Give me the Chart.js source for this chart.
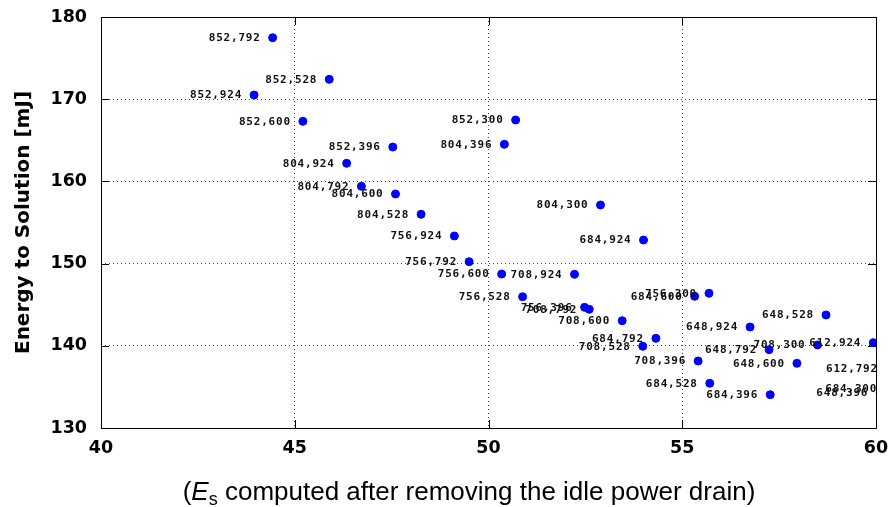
<!DOCTYPE html>
<html>
<head>
<meta charset="utf-8">
<script src="https://cdn.jsdelivr.net/npm/chart.js@4"></script>
<style>
  html, body { margin: 0; padding: 0; background: #fff; }
</style>
</head>
<body>
<canvas id="chart" width="895" height="507"></canvas>
<script>
// frequency config (core MHz, mem MHz) for each run
const configs = [
  '852,792', '852,528', '852,924', '852,600', '852,300', '852,396',
  '804,396', '804,924', '804,792', '804,600', '804,528', '804,300',
  '684,924', '756,924', '756,792', '756,600', '708,924', '756,528',
  '756,396', '708,792', '708,600', '684,792', '708,528', '708,396',
  '684,528', '756,300', '684,600', '648,528', '648,924', '612,924',
  '708,300', '648,792', '648,600', '684,396', '612,792', '684,300',
  '648,396'
];
// E_s (x axis)
const esValues = [
  44.43, 45.89, 43.95, 45.21, 50.70, 47.53,
  50.41, 46.34, 46.72, 47.60, 48.26, 52.89,
  54.00, 49.12, 49.50, 50.34, 52.22, 50.88,
  52.48, 52.60, 53.45, 54.32, 53.98, 55.41,
  55.71, 55.69, 55.32, 58.71, 56.75, 59.93,
  58.49, 57.24, 57.96, 57.27, 60.36, 60.34,
  60.11
];
// energy to solution [mJ] (y axis)
const energyValues = [
  177.48, 172.42, 170.51, 167.31, 167.47, 164.18,
  164.51, 162.20, 159.40, 158.47, 156.00, 157.13,
  152.87, 153.36, 150.23, 148.73, 148.70, 145.97,
  144.68, 144.44, 143.05, 140.91, 139.94, 138.15,
  135.44, 146.39, 146.02, 143.75, 142.29, 140.38,
  140.10, 139.53, 137.87, 134.05, 137.26, 134.83,
  134.30
];
const xTicks = { min: 40, max: 60, step: 5 };
const yTicks = { min: 130, max: 180, step: 10 };

const points = esValues.map((x, i) => ({ x: x, y: energyValues[i] }));

// labels next to each point
const pointLabels = {
  id: 'pointLabels',
  afterDatasetsDraw(chart) {
    const ctx = chart.ctx;
    const meta = chart.getDatasetMeta(0);
    ctx.save();
    ctx.font = 'bold 11px "DejaVu Sans Mono"';
    ctx.letterSpacing = '0.8px';
    ctx.fillStyle = '#111';
    ctx.textAlign = 'right';
    ctx.textBaseline = 'middle';
    meta.data.forEach((pt, i) => {
      ctx.fillText(configs[i], pt.x - 12, pt.y + 0.5);
    });
    ctx.restore();
  }
};

// box + inward tick marks like gnuplot
const frame = {
  id: 'frame',
  beforeDatasetsDraw(chart) {
    const { ctx, chartArea: a, scales } = chart;
    ctx.save();
    ctx.strokeStyle = '#000';
    ctx.lineWidth = 1;
    ctx.beginPath();
    scales.x.ticks.forEach(t => {
      const px = Math.round(scales.x.getPixelForValue(t.value)) + 0.5;
      ctx.moveTo(px, a.bottom); ctx.lineTo(px, a.bottom - 8);
      ctx.moveTo(px, a.top); ctx.lineTo(px, a.top + 8);
    });
    scales.y.ticks.forEach(t => {
      const py = Math.round(scales.y.getPixelForValue(t.value)) + 0.5;
      ctx.moveTo(a.left, py); ctx.lineTo(a.left + 8, py);
      ctx.moveTo(a.right, py); ctx.lineTo(a.right - 8, py);
    });
    ctx.stroke();
    ctx.strokeRect(Math.round(a.left) + 0.5, Math.round(a.top) + 0.5,
      Math.round(a.right - a.left), Math.round(a.bottom - a.top));
    ctx.restore();
  }
};

// x axis title with italic E and subscript s
const xTitle = {
  id: 'xTitle',
  afterDraw(chart) {
    const ctx = chart.ctx;
    const cx = 469;
    const big = '26px "Liberation Sans"';
    const ital = 'italic 26px "Liberation Sans"';
    const sub = '18px "Liberation Sans"';
    const rest = ' computed after removing the idle power drain)';
    ctx.save();
    ctx.fillStyle = '#000';
    ctx.textBaseline = 'alphabetic';
    ctx.font = big; const w1 = ctx.measureText('(').width;
    const w3 = ctx.measureText(rest).width;
    ctx.font = ital; const w2 = ctx.measureText('E').width;
    ctx.font = sub; const ws = ctx.measureText('s').width;
    let x = cx - (w1 + w2 + ws + w3) / 2;
    const base = 500;
    ctx.font = big; ctx.fillText('(', x, base); x += w1;
    ctx.font = ital; ctx.fillText('E', x, base); x += w2;
    ctx.font = sub; ctx.fillText('s', x, base + 5); x += ws;
    ctx.font = big; ctx.fillText(rest, x, base);
    ctx.restore();
  }
};

const gridColor = ctx => {
  const v = ctx.tick && ctx.tick.value;
  const s = ctx.scale;
  return (v === s.min || v === s.max) ? 'rgba(0,0,0,0)' : '#444';
};

new Chart(document.getElementById('chart'), {
  type: 'scatter',
  data: {
    datasets: [{
      data: points,
      backgroundColor: '#0000ff',
      borderColor: '#0000ff',
      pointRadius: 4,
      pointHoverRadius: 4,
      clip: { left: 5, top: 5, bottom: 5, right: 0 }
    }]
  },
  options: {
    responsive: false,
    animation: false,
    events: [],
    layout: { padding: { left: 0, right: 19, top: 17, bottom: 0 } },
    plugins: {
      legend: { display: false },
      tooltip: { enabled: false }
    },
    scales: {
      x: {
        type: 'linear',
        min: xTicks.min,
        max: xTicks.max,
        afterFit: s => { s.height = 79; s.paddingLeft = 0; s.paddingRight = 0; },
        ticks: {
          stepSize: xTicks.step,
          padding: 10,
          color: '#000',
          font: { family: '"DejaVu Sans"', size: 17.5, weight: 'bold' }
        },
        grid: { color: gridColor, lineWidth: 1, drawTicks: false },
        border: { display: false, dash: [1, 3] }
      },
      y: {
        min: yTicks.min,
        max: yTicks.max,
        afterFit: s => { s.width = 101; s.paddingTop = 0; s.paddingBottom = 0; },
        ticks: {
          stepSize: yTicks.step,
          padding: 14,
          color: '#000',
          font: { family: '"DejaVu Sans"', size: 17.5, weight: 'bold' }
        },
        title: {
          display: true,
          text: 'Energy to Solution [mJ]',
          color: '#000',
          font: { family: '"DejaVu Sans"', size: 20, weight: 'bold' },
          padding: { top: 12, bottom: 0 }
        },
        grid: { color: gridColor, lineWidth: 1, drawTicks: false },
        border: { display: false, dash: [1, 3] }
      }
    }
  },
  plugins: [frame, pointLabels, xTitle]
});
</script>
</body>
</html>
